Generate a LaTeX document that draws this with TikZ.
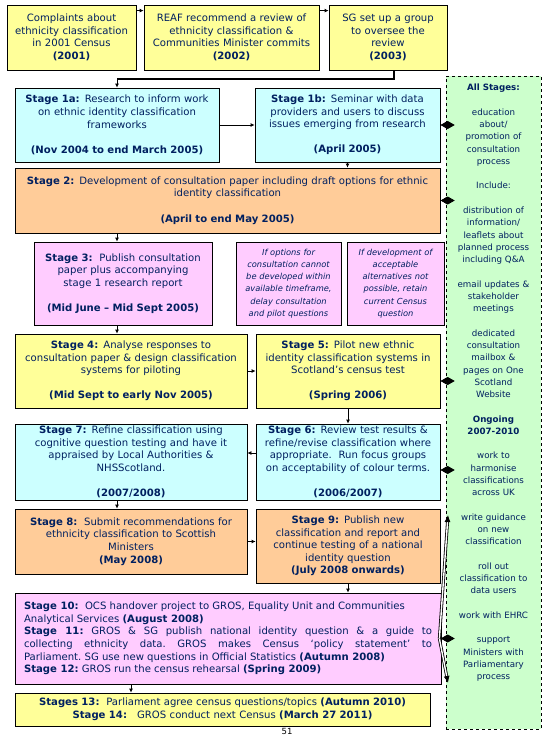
\documentclass[tikz,border=0pt]{standalone}
\usepackage{fontspec}
\setmainfont{DejaVu Sans}
\usetikzlibrary{arrows.meta}
\definecolor{navy}{RGB}{0,32,96}
\definecolor{boxyellow}{RGB}{255,255,153}
\definecolor{boxcyan}{RGB}{204,255,255}
\definecolor{boxorange}{RGB}{255,204,153}
\definecolor{boxpink}{RGB}{255,204,255}
\definecolor{boxgreen}{RGB}{204,255,204}
\newcommand{\mainsize}{\fontsize{10.1}{12.6}\selectfont}
\newcommand{\notesize}{\fontsize{8.3}{12.2}\selectfont\itshape}
\newcommand{\greensize}{\fontsize{8.7}{12.27}\selectfont}
\begin{document}
\begin{tikzpicture}[x=1pt, y=-1pt,
    stagebox/.style={draw, line width=0.8pt, inner xsep=3pt, inner ysep=2pt, align=center, text=navy, font=\mainsize},
    notebox/.style={stagebox, font=\notesize},
    dims/.style 2 args={text width=#1pt, minimum height=#2pt},
    arr/.style={-{Latex[length=4pt,width=4pt]}, line width=0.8pt},
    gconn/.style={{Diamond[length=14pt,width=8pt]}-{Latex[length=6pt,width=7pt]}, line width=0.8pt},
    dblarr/.style={double, double distance=1.4pt, line width=0.8pt, -{Latex[length=7pt,width=6pt]}}]
      \useasboundingbox (0,0) rectangle (549,737);
      \node[draw, dashed, line width=0.6pt, fill=boxgreen, minimum width=95pt, minimum height=653pt] (g) at (493.5,402.5) {};
      \node[anchor=north, inner sep=0pt, text width=92pt, align=center, text=navy, font=\greensize] (gt) at (493.5,84)
        {\textbf{All Stages:}\\[12.27pt]
         education\\about/\\promotion of\\consultation\\process\\[12.27pt]
         Include:\\[12.27pt]
         distribution of\\information/\\leaflets about\\planned process\\including Q\&A\\[12.27pt]
         email updates \&\\stakeholder\\meetings\\[12.27pt]
         dedicated\\consultation\\mailbox \&\\pages on One\\Scotland\\Website\\[12.27pt]
         \textbf{Ongoing}\\\textbf{2007-2010}\\[12.27pt]
         work to\\harmonise\\classifications\\across UK\\[12.27pt]
         write guidance\\on new\\classification\\[12.27pt]
         roll out\\classification to\\data users\\[12.27pt]
         work with EHRC\\[12.27pt]
         support\\Ministers with\\Parliamentary\\process};
      \node[stagebox, fill=boxyellow, dims={123}{65}] (cmp) at (71.5,37.5)
        {Complaints about\\ethnicity classification\\in 2001 Census\\\textbf{(2001)}};
      \node[stagebox, fill=boxyellow, dims={169}{65}] (reaf) at (231.5,37.5)
        {REAF recommend a review of\\ethnicity classification \&\\Communities Minister commits\\\textbf{(2002)}};
      \node[stagebox, fill=boxyellow, dims={112}{65}] (sg) at (388,37.5)
        {SG set up a group\\to oversee the\\review\\\textbf{(2003)}};
      \node[stagebox, fill=boxcyan, dims={198}{74}] (s1a) at (117,125)
        {\textbf{Stage 1a:} Research to inform work\\on ethnic identity classification\\frameworks\\[12.6pt]\textbf{(Nov 2004 to end March 2005)}};
      \node[stagebox, fill=boxcyan, dims={179}{74}] (s1b) at (347.5,125)
        {\textbf{Stage 1b:} Seminar with data\\providers and users to discuss\\issues emerging from research\\[12.6pt]\textbf{(April 2005)}};
      \node[stagebox, fill=boxorange, dims={419}{65}] (s2) at (227.5,200.5)
        {\textbf{Stage 2:} Development of consultation paper including draft options for ethnic\\identity classification\\[12.6pt]\textbf{(April to end May 2005)}};
      \node[stagebox, fill=boxpink, dims={172}{83}] (s3) at (123,283.5)
        {\textbf{Stage 3:}\ \ Publish consultation\\paper plus accompanying\\stage 1 research report\\[12.6pt]\textbf{(Mid June – Mid Sept 2005)}};
      \node[notebox, fill=boxpink, dims={99}{83}] (n1) at (288.5,283.5)
        {If options for\\consultation cannot\\be developed within\\available timeframe,\\delay consultation\\and pilot questions};
      \node[notebox, fill=boxpink, dims={91}{83}] (n2) at (395.5,283.5)
        {If development of\\acceptable\\alternatives not\\possible, retain\\current Census\\question};
      \node[stagebox, fill=boxyellow, dims={226}{74}] (s4) at (131,371)
        {\textbf{Stage 4:} Analyse responses to\\consultation paper \& design classification\\systems for piloting\\[12.6pt]\textbf{(Mid Sept to early Nov 2005)}};
      \node[stagebox, fill=boxyellow, dims={178}{74}] (s5) at (348,371)
        {\textbf{Stage 5:} Pilot new ethnic\\identity classification systems in\\Scotland’s census test\\[12.6pt]\textbf{(Spring 2006)}};
      \node[stagebox, fill=boxcyan, dims={226}{76}] (s7) at (131,462)
        {\textbf{Stage 7:} Refine classification using\\cognitive question testing and have it\\appraised by Local Authorities \&\\NHSScotland.\\[12.6pt]\textbf{(2007/2008)}};
      \node[stagebox, fill=boxcyan, dims={178}{76}] (s6) at (348,462)
        {\textbf{Stage 6:} Review test results \&\\refine/revise classification where\\appropriate.\ \ Run focus groups\\on acceptability of colour terms.\\[12.6pt]\textbf{(2006/2007)}};
      \node[stagebox, fill=boxorange, dims={226}{65}] (s8) at (131,541.5)
        {\textbf{Stage 8:}\ \ Submit recommendations for\\ethnicity classification to Scottish\\Ministers\\\textbf{(May 2008)}};
      \node[stagebox, fill=boxorange, dims={178}{74}] (s9) at (348,546)
        {\textbf{Stage 9:} Publish new\\classification and report and\\continue testing of a national\\identity question\\\textbf{(July 2008 onwards)}};
      \node[stagebox, fill=boxpink, inner xsep=9pt, align=justify, dims={408}{91}] (s10) at (228,638.5)
        {\rightskip=9pt\relax\frenchspacing
         \textbf{Stage 10:}\ \ OCS handover project to GROS, Equality Unit and Communities\\
         Analytical Services \textbf{(August 2008)}\\
         \textbf{Stage 11:} GROS \& SG publish national identity question \& a guide to\linebreak
         collecting ethnicity data. GROS makes Census ‘policy statement’ to\linebreak
         Parliament. SG use new questions in Official Statistics \textbf{(Autumn 2008)}\\
         \textbf{Stage 12:} GROS run the census rehearsal \textbf{(Spring 2009)}};
      \node[stagebox, fill=boxyellow, dims={409}{33}] (s13) at (222.5,709.5)
        {\textbf{Stages 13:}\ \ Parliament agree census questions/topics \textbf{(Autumn 2010)}\\
         \textbf{Stage 14:}\ \ \ GROS conduct next Census \textbf{(March 27 2011)}};
      \node[anchor=north, inner sep=0pt, font=\fontsize{8.5}{10}\selectfont] (pg) at (287,728.5) {51};
      \draw[arr] ([yshift=-6pt]cmp.north east) -- ([yshift=-6pt]reaf.north west);
      \draw[arr] ([yshift=-6pt]reaf.north east) -- ([yshift=-6pt]sg.north west);
      \coordinate (j) at (s1a.north |- 0,79);
      \draw[line width=2.5pt] ([xshift=6pt]sg.south) |- (j);
      \draw[arr] (j) -- (s1a.north);
      \draw[arr] (s1a.east) -- (s1b.west);
      \draw[arr] (s1b.south) -- (s2.north -| s1b.south);
      \draw[arr] (s2.south -| s1a.south) -- (s3.north -| s1a.south);
      \draw[arr] (s3.south -| s1a.south) -- (s4.north -| s1a.south);
      \draw[arr] (s4.east) -- (s5.west);
      \draw[arr] (s5.south) -- (s6.north);
      \draw[arr] ([yshift=9pt]s6.west) -- ([yshift=9pt]s7.east);
      \draw[arr] (s7.south -| s1a.south) -- (s8.north -| s1a.south);
      \draw[arr] (s8.east) -- (s8.east -| s9.west);
      \draw[arr] (s9.south) -- (s10.north -| s9.south);
      \draw[arr] (s10.south -| s8.south) -- (s13.north -| s8.south);
      \draw[gconn] ([xshift=9pt]g.west |- s1b.east) -- (s1b.east);
      \draw[gconn] ([xshift=9pt]g.west |- s2.east) -- (s2.east);
      \draw[gconn] ([xshift=9pt,yshift=-10pt]g.west |- s5.east) -- ([yshift=-10pt]s5.east);
      \draw[gconn] ([xshift=9pt,yshift=-8pt]g.west |- s6.east) -- ([yshift=-8pt]s6.east);
      \draw[gconn] ([xshift=9pt]g.west |- s10.east) -- (s10.east);
      \coordinate (up) at (448,515);
      \coordinate (dn) at (448,683);
      \draw[dblarr] ([xshift=-2pt]s10.east) -- (up);
      \draw[dblarr] ([xshift=-2pt]s10.east) -- (dn);
    \end{tikzpicture}
\end{document}
